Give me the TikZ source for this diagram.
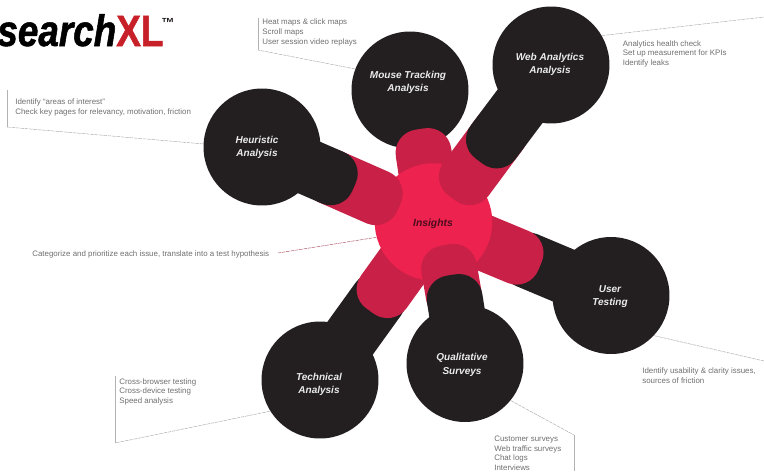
\documentclass[tikz,border=0pt]{standalone}
\usepackage{xcolor}
\usepackage{fontspec}
\usetikzlibrary{calc}
\setmainfont{Liberation Sans}
\newfontfamily\logofont[FakeStretch=0.84,FakeBold=1.2]{Liberation Sans}
\definecolor{satblack}{RGB}{35, 31, 32}
\definecolor{hubred}{RGB}{238, 34, 78}
\definecolor{armred}{RGB}{200, 32, 70}
\definecolor{logored}{RGB}{200, 32, 40}
\definecolor{hubtext}{RGB}{75, 12, 30}
\definecolor{notegray}{RGB}{110, 110, 110}
\tikzset{
  sat/.style={circle, fill=satblack, minimum size=2.34cm, inner sep=0pt},
  satlabel/.style={inner sep=0pt, align=center, text=white!92!black,
    font=\fontsize{5.7}{7.6}\selectfont\bfseries\itshape},
  note/.style={anchor=north west, inner sep=0pt, align=left, text=notegray,
    font=\fontsize{4.5}{5.55}\selectfont},
  leader/.style={draw=gray!70, line width=0.25pt, dash pattern=on 2pt off 0.5pt},
  edge/.style={draw=gray!60, line width=0.25pt}
}
% bar with rounded ends, from one point to another
\newcommand{\armbar}[3]{\fill[#1, rounded corners=0.47cm] ($(#2)!.56cm!90:(#3)$) -- ($(#2)!.56cm!-90:(#3)$) -- ($(#3)!.56cm!90:(#2)$) -- ($(#3)!.56cm!-90:(#2)$) -- cycle;}
\begin{document}
\begin{tikzpicture}[x=0.02cm, y=-0.02cm]
  \useasboundingbox (0,0) rectangle (764,471);

  % logo
  \node[anchor=base west, inner sep=0pt, font=\fontsize{25}{25}\selectfont\logofont\bfseries] (logo) at (-3,46)
    {\textit{search}\textcolor{logored}{XL}};
  \node[anchor=base west, inner sep=0pt, text=satblack, font=\fontsize{7.5}{8}\selectfont\bfseries] (tm) at (161,27) {™};

  % hub + tips of the necks and arms
  \coordinate (hub) at (434,222);
  \coordinate (heuneck) at (354,187);
  \coordinate (heuarm) at (399,207);
  \coordinate (mousearm) at (420,129);
  \coordinate (webneck) at (479,161);
  \coordinate (webarm) at (452,198);
  \coordinate (userarm) at (540,266);
  \coordinate (userneck) at (505,251);
  \coordinate (qualneck) at (451,275);
  \coordinate (qualarm) at (445,245);
  \coordinate (techarm) at (370,311);
  \coordinate (techneck) at (392,280);

  % satellites
  \node[sat] (heuristic) at (262,147) {};
  \node[sat] (mouse) at (410,90) {};
  \node[sat] (web) at (551,65) {};
  \node[sat] (user) at (611,295.5) {};
  \node[sat] (qual) at (465,363.5) {};
  \node[sat] (tech) at (320,380) {};

  % arms under the hub
  \armbar{satblack}{userneck}{user}
  \armbar{satblack}{techneck}{tech}
  \armbar{armred}{mousearm}{hub}
  \armbar{armred}{userarm}{hub}
  \armbar{armred}{techarm}{hub}

  \node[circle, fill=hubred, minimum size=2.35cm, inner sep=0pt] (insights) at (433.5,222) {};

  % arms over the hub
  \armbar{armred}{heuarm}{$(heuneck)!.5!(heuristic)$}
  \armbar{armred}{webarm}{$(webneck)!.5!(web)$}
  \armbar{armred}{qualarm}{$(qualneck)!.5!(qual)$}
  \armbar{satblack}{heuneck}{heuristic}
  \armbar{satblack}{webneck}{web}
  \armbar{satblack}{qualneck}{qual}

  % labels
  \node[satlabel] (heulabel) at (257,147.5) {Heuristic\\Analysis};
  \node[satlabel] (mouselabel) at (408,82.5) {Mouse Tracking\\Analysis};
  \node[satlabel] (weblabel) at (550,64.5) {Web Analytics\\Analysis};
  \node[satlabel] (userlabel) at (610,296.5) {User\\Testing};
  \node[satlabel] (quallabel) at (462,365) {Qualitative\\Surveys};
  \node[satlabel] (techlabel) at (319,384.5) {Technical\\Analysis};
  \node[satlabel, text=hubtext, font=\fontsize{5.9}{7}\selectfont\bfseries\itshape] (hublabel) at (433,223.5) {Insights};

  % notes
  \node[note] (heunote) at (15,98.5) {Identify ``areas of interest''\\Check key pages for relevancy, motivation, friction};
  \node[note] (mousenote) at (262,18.5) {Heat maps \& click maps\\Scroll maps\\User session video replays};
  \node[note] (webnote) at (622.5,40) {Analytics health check\\Set up measurement for KPIs\\Identify leaks};
  \node[note] (hubnote) at (32,250.5) {Categorize and prioritize each issue, translate into a test hypothesis};
  \node[note] (technote) at (119,378) {Cross-browser testing\\Cross-device testing\\Speed analysis};
  \node[note] (qualnote) at (494,435.5) {Customer surveys\\Web traffic surveys\\Chat logs\\Interviews};
  \node[note] (usernote) at (642,367.5) {Identify usability \& clarity issues,\\sources of friction};

  % leaders
  \coordinate (heubend) at (7,127);
  \coordinate (heutop) at (7,90);
  \coordinate (mousebend) at (258,50);
  \coordinate (mousetop) at (258,18);
  \coordinate (webfree) at (764,17);
  \coordinate (hubfree) at (278,253);
  \coordinate (techbend) at (115,443);
  \coordinate (techtop) at (115,376);
  \coordinate (qualbend) at (574,435);
  \coordinate (qualfree) at (574,471);
  \coordinate (userfree) at (764,361);

  \draw[leader] (heuristic.177) -- (heubend);
  \draw[edge] (heubend) -- (heutop);
  \draw[leader] (mouse.159) -- (mousebend);
  \draw[edge] (mousebend) -- (mousetop);
  \draw[leader] (web.30) -- (webfree);
  \draw[leader, draw=armred!55!gray] (insights.195) -- (hubfree);
  \draw[leader] (tech.212) -- (techbend);
  \draw[edge] (techbend) -- (techtop);
  \draw[leader] (qual.321) -- (qualbend);
  \draw[edge] (qualbend) -- (qualfree);
  \draw[leader] (user.317) -- (userfree);
\end{tikzpicture}
\end{document}
